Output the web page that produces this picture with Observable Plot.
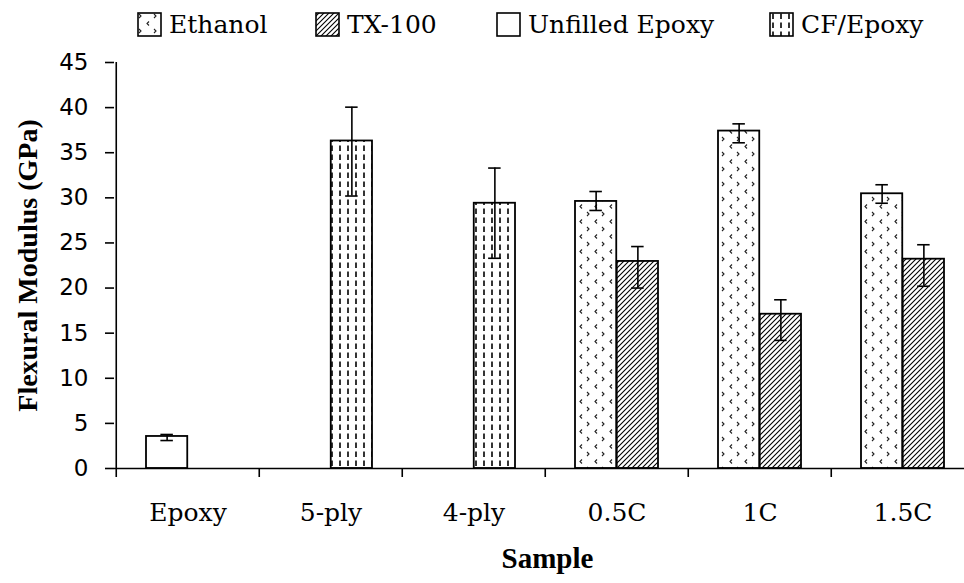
<!DOCTYPE html>
<html>
<head>
<meta charset="utf-8">
<script src="https://cdn.jsdelivr.net/npm/d3@7"></script>
<script src="https://cdn.jsdelivr.net/npm/@observablehq/plot@0.6"></script>
<style>
  body { margin: 0; background: #fff; }
  #wrap { position: relative; width: 964px; height: 583px; background: #fff; }
  #legend { position: relative; width: 964px; height: 45px; font-family: "DejaVu Serif"; font-size: 25px; color: #000; }
  .item { position: absolute; top: 2px; height: 45px; display: flex; align-items: center; white-space: nowrap; }
  .item svg { margin-right: 7px; }
  #defs { position: absolute; width: 0; height: 0; }
</style>
</head>
<body>
<svg id="defs" width="0" height="0">
  <defs>
    <pattern id="pat-ethanol" patternUnits="userSpaceOnUse" width="15" height="15">
      <rect width="15" height="15" fill="#fff"/>
      <path d="M2,2 L4,4 L2,6" fill="none" stroke="#222" stroke-width="1.1"/>
      <path d="M12,9.5 L10,11.5 L12,13.5" fill="none" stroke="#222" stroke-width="1.1"/>
    </pattern>
    <pattern id="pat-tx" patternUnits="userSpaceOnUse" width="5" height="5">
      <rect width="5" height="5" fill="#fff"/>
      <path d="M-1,6 L6,-1 M-1,1 L1,-1 M4,6 L6,4" stroke="#000" stroke-width="1.1"/>
    </pattern>
    <pattern id="pat-unfilled" patternUnits="userSpaceOnUse" width="10" height="10">
      <rect width="10" height="10" fill="#fff"/>
    </pattern>
    <pattern id="pat-cf" patternUnits="userSpaceOnUse" width="8" height="9">
      <rect width="8" height="9" fill="#fff"/>
      <path d="M4,1.5 L4,7" stroke="#000" stroke-width="1.6"/>
    </pattern>
  </defs>
</svg>
<div id="wrap">
  <div id="legend"></div>
  <div id="chart"></div>
</div>
<script>
// ---- data ----
const categories = ["Epoxy", "5-ply", "4-ply", "0.5C", "1C", "1.5C"];
const seriesNames = ["Ethanol", "TX-100", "Unfilled Epoxy", "CF/Epoxy"];

const ethanolValues = [null, null, null, 29.6, 37.4, 30.45];
const ethanolLow    = [null, null, null, 28.6, 36.1, 29.4];
const ethanolHigh   = [null, null, null, 30.7, 38.2, 31.45];

const tx100Values = [null, null, null, 22.95, 17.1, 23.2];
const tx100Low    = [null, null, null, 20.0, 14.2, 20.2];
const tx100High   = [null, null, null, 24.6, 18.7, 24.8];

const unfilledValues = [3.55, null, null, null, null, null];
const unfilledLow    = [3.1, null, null, null, null, null];
const unfilledHigh   = [3.77, null, null, null, null, null];

const cfValues = [null, 36.3, 29.4, null, null, null];
const cfLow    = [null, 30.2, 23.3, null, null, null];
const cfHigh   = [null, 40.05, 33.3, null, null, null];

const yTicks = [0, 5, 10, 15, 20, 25, 30, 35, 40, 45];
const yLabel = "Flexural Modulus (GPa)";
const xLabel = "Sample";

// ---- build table ----
const seriesData = {
  "Ethanol": [ethanolValues, ethanolLow, ethanolHigh],
  "TX-100": [tx100Values, tx100Low, tx100High],
  "Unfilled Epoxy": [unfilledValues, unfilledLow, unfilledHigh],
  "CF/Epoxy": [cfValues, cfLow, cfHigh]
};
const rows = [];
for (const s of seriesNames) {
  const [v, lo, hi] = seriesData[s];
  categories.forEach((c, i) => {
    if (v[i] != null) rows.push({category: c, series: s, value: v[i], low: lo[i], high: hi[i]});
  });
}

// ---- styles ----
const fills = {"Ethanol": "url(#pat-ethanol)", "TX-100": "url(#pat-tx)", "Unfilled Epoxy": "url(#pat-unfilled)", "CF/Epoxy": "url(#pat-cf)"};
const slot = {"Ethanol": -1, "TX-100": 1, "Unfilled Epoxy": -1, "CF/Epoxy": 1};

const W = 964, H = 538, mL = 114, mT = 17, mB = 115;
const xRange = [114, 975];
const bw = (xRange[1] - xRange[0]) / categories.length;
const barW = 41.75, capW = 13;

const marks = [];
// bars
for (const s of seriesNames) {
  const left = slot[s] < 0;
  marks.push(Plot.barY(rows.filter(r => r.series === s), {
    x: "category", y: "value", fill: fills[s], stroke: "black", strokeWidth: 1.8,
    insetLeft: left ? bw / 2 - barW : bw / 2,
    insetRight: left ? bw / 2 : bw / 2 - barW
  }));
}
// error bars
for (const side of [-1, 1]) {
  const d = rows.filter(r => slot[r.series] === side);
  const dx = side * barW / 2;
  marks.push(Plot.ruleX(d, {x: "category", y1: "low", y2: "high", dx, stroke: "black", strokeWidth: 1.6}));
  marks.push(Plot.tickY(d, {x: "category", y: "high", dx, insetLeft: (bw - capW) / 2, insetRight: (bw - capW) / 2, stroke: "black", strokeWidth: 1.6}));
  marks.push(Plot.tickY(d, {x: "category", y: "low", dx, insetLeft: (bw - capW) / 2, insetRight: (bw - capW) / 2, stroke: "black", strokeWidth: 1.6}));
}
// axes lines
marks.push(Plot.ruleY([0], {stroke: "black", strokeWidth: 1.6}));
marks.push(Plot.ruleX([categories[0]], {x: d => d, y1: () => 0, y2: () => 45, dx: -bw / 2, stroke: "black", strokeWidth: 1.6}));
marks.push(Plot.ruleX(categories, {x: d => d, y1: () => 0, y2: () => -1, dx: -bw / 2, stroke: "black", strokeWidth: 1.6}));
marks.push(Plot.axisY(yTicks, {tickSize: 9, tickPadding: 17, fontSize: 23, fontFamily: "DejaVu Sans", stroke: "black", strokeWidth: 1.6, fill: "black", label: null}));
marks.push(Plot.axisX({tickSize: 0, tickPadding: 35, fontSize: 25, fontFamily: "DejaVu Serif", fill: "black", label: null}));
marks.push(Plot.text([yLabel], {text: d => d, frameAnchor: "left", textAnchor: "middle", rotate: -90, dx: -86, fontFamily: "Liberation Serif", fontWeight: "bold", fontSize: 28, fill: "black"}));
marks.push(Plot.text([xLabel], {text: d => d, frameAnchor: "bottom", dx: 8, dy: 99, fontFamily: "Liberation Serif", fontWeight: "bold", fontSize: 29, fill: "black"}));

const chart = Plot.plot({
  width: W, height: H,
  marginLeft: mL, marginRight: 0, marginTop: mT, marginBottom: mB,
  style: {background: "#fff", color: "black", overflow: "visible"},
  x: {domain: categories, range: xRange, padding: 0, axis: null},
  y: {domain: [0, 45], axis: null},
  marks
});
document.getElementById("chart").appendChild(chart);

// ---- legend ----
const legendPos = {"Ethanol": 137, "TX-100": 315, "Unfilled Epoxy": 496, "CF/Epoxy": 769};
const legend = d3.select("#legend");
for (const s of seriesNames) {
  const item = legend.append("div").attr("class", "item").style("left", legendPos[s] + "px");
  const sw = item.append("svg").attr("width", 25).attr("height", 25);
  sw.append("rect").attr("x", 1).attr("y", 1).attr("width", 23).attr("height", 23)
    .attr("fill", fills[s]).attr("stroke", "black").attr("stroke-width", 1.6);
  item.append("span").text(s);
}
</script>
</body>
</html>
